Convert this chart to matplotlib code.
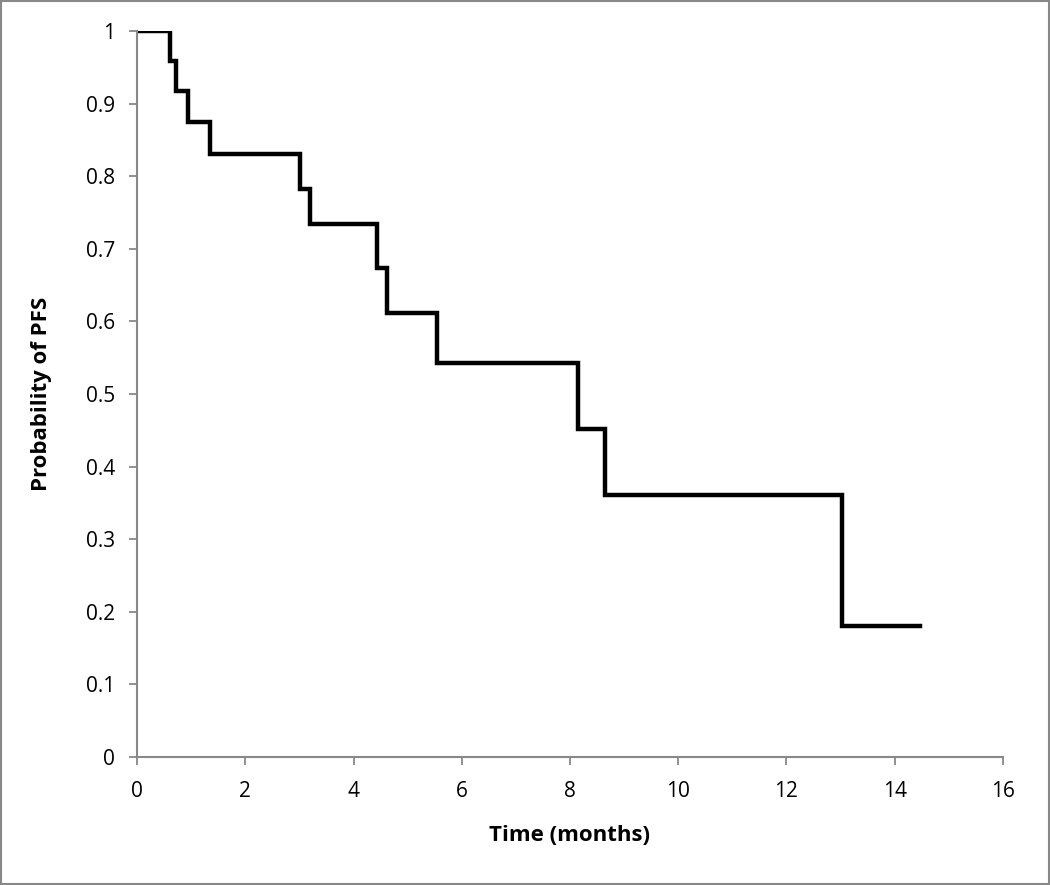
import matplotlib
matplotlib.use("Agg")
import matplotlib.pyplot as plt
from matplotlib.patches import Rectangle

plt.rcParams['font.family'] = ['Open Sans', 'DejaVu Sans']

# curva de supervivencia (PFS)
tiempo = [0, 0.61, 0.715, 0.94, 1.34, 3.01, 3.19, 4.44, 4.61, 5.55, 8.14, 8.65, 13.02, 14.47]
prob = [1.0, 0.958, 0.918, 0.875, 0.830, 0.782, 0.734, 0.673, 0.611, 0.543, 0.452, 0.361, 0.181, 0.181]

x_ticks = [0, 2, 4, 6, 8, 10, 12, 14, 16]
y_ticks = [0, 0.1, 0.2, 0.3, 0.4, 0.5, 0.6, 0.7, 0.8, 0.9, 1]
y_labels = ["0", "0.1", "0.2", "0.3", "0.4", "0.5", "0.6", "0.7", "0.8", "0.9", "1"]

fig = plt.figure(figsize=(10.5, 8.85), dpi=100)
ax = fig.add_axes([0.1305, 0.1446, 0.8247, 0.8204])

ax.step(tiempo, prob, where="post", color="black", linewidth=3.2, solid_joinstyle="miter")

ax.set_xlim(0, 16)
ax.set_ylim(0, 1)
ax.set_xticks(x_ticks)
ax.set_yticks(y_ticks)
ax.set_yticklabels(y_labels)
ax.tick_params(axis="both", direction="out", length=6, width=1.3, color="#888888",
               labelsize=15)
ax.tick_params(axis="x", pad=11)
ax.tick_params(axis="y", pad=10)

for s in ["top", "right"]:
    ax.spines[s].set_visible(False)
for s in ["left", "bottom"]:
    ax.spines[s].set_color("#888888")
    ax.spines[s].set_linewidth(1.5)

ax.set_xlabel("Time (months)", fontsize=16, fontweight="bold", labelpad=17)
ax.set_ylabel("Probability of PFS", fontsize=16, fontweight="bold", labelpad=24)

# borde del grafico
fig.patches.append(Rectangle((0.001, 0.001), 0.998, 0.998, transform=fig.transFigure,
                             fill=False, edgecolor="#888888", linewidth=1.5))

fig.savefig("out.png", dpi=100)
